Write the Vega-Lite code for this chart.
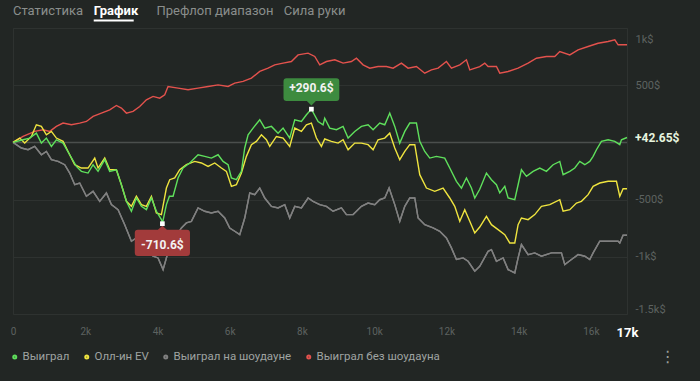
{
  "$schema": "https://vega.github.io/schema/vega-lite/v6.json",
  "width": 614,
  "height": 286,
  "autosize": {"type": "none"},
  "padding": {"left": 13, "top": 28, "right": 73, "bottom": 67},
  "background": "#222624",
  "config": {
    "font": "Roboto",
    "view": {"stroke": "#2e3230"},
    "axis": {"domain": false, "ticks": false, "title": null}
  },
  "datasets": {
    "win": [{"h":0,"v":0},{"h":278,"v":23},{"h":463,"v":38},{"h":647,"v":81},{"h":786,"v":-6},{"h":924,"v":38},{"h":1063,"v":-35},{"h":1201,"v":23},{"h":1386,"v":-6},{"h":1570,"v":-108},{"h":1755,"v":-210},{"h":1893,"v":-253},{"h":2078,"v":-268},{"h":2217,"v":-195},{"h":2355,"v":-253},{"h":2540,"v":-151},{"h":2678,"v":-253},{"h":2863,"v":-239},{"h":3001,"v":-370},{"h":3140,"v":-515},{"h":3278,"v":-602},{"h":3416,"v":-486},{"h":3555,"v":-559},{"h":3693,"v":-588},{"h":3832,"v":-486},{"h":3970,"v":-602},{"h":4109,"v":-675},{"h":4136,"v":-710.6},{"h":4247,"v":-544},{"h":4330,"v":-470},{"h":4432,"v":-471},{"h":4570,"v":-311},{"h":4709,"v":-224},{"h":4893,"v":-180},{"h":5124,"v":-108},{"h":5309,"v":-122},{"h":5493,"v":-137},{"h":5678,"v":-108},{"h":5816,"v":-166},{"h":5955,"v":-195},{"h":6047,"v":-311},{"h":6185,"v":-326},{"h":6324,"v":-253},{"h":6416,"v":-49},{"h":6509,"v":67},{"h":6647,"v":125},{"h":6832,"v":198},{"h":6970,"v":125},{"h":7155,"v":140},{"h":7339,"v":81},{"h":7478,"v":125},{"h":7662,"v":38},{"h":7801,"v":198},{"h":7985,"v":183},{"h":8124,"v":242},{"h":8262,"v":290.6},{"h":8447,"v":183},{"h":8585,"v":154},{"h":8631,"v":212},{"h":8770,"v":125},{"h":8955,"v":111},{"h":9139,"v":140},{"h":9278,"v":38},{"h":9462,"v":96},{"h":9647,"v":140},{"h":9831,"v":154},{"h":9970,"v":111},{"h":10154,"v":169},{"h":10293,"v":154},{"h":10431,"v":256},{"h":10570,"v":140},{"h":10708,"v":-6},{"h":10847,"v":96},{"h":10985,"v":169},{"h":11170,"v":169},{"h":11262,"v":9},{"h":11400,"v":-79},{"h":11539,"v":-137},{"h":11724,"v":-122},{"h":11954,"v":-137},{"h":12093,"v":-224},{"h":12277,"v":-340},{"h":12416,"v":-399},{"h":12554,"v":-311},{"h":12693,"v":-399},{"h":12785,"v":-486},{"h":12923,"v":-410},{"h":13108,"v":-268},{"h":13247,"v":-326},{"h":13385,"v":-370},{"h":13477,"v":-442},{"h":13616,"v":-384},{"h":13708,"v":-486},{"h":13893,"v":-501},{"h":13985,"v":-370},{"h":14077,"v":-239},{"h":14216,"v":-297},{"h":14400,"v":-253},{"h":14585,"v":-224},{"h":14769,"v":-253},{"h":14954,"v":-195},{"h":15139,"v":-166},{"h":15231,"v":-282},{"h":15416,"v":-253},{"h":15554,"v":-224},{"h":15692,"v":-166},{"h":15831,"v":-195},{"h":15969,"v":-166},{"h":16062,"v":-122},{"h":16154,"v":-64},{"h":16292,"v":9},{"h":16477,"v":23},{"h":16662,"v":9},{"h":16800,"v":-20},{"h":16846,"v":23},{"h":17000,"v":42.65}],
    "ev": [{"h":0,"v":0},{"h":186,"v":38},{"h":324,"v":-6},{"h":509,"v":52},{"h":647,"v":154},{"h":786,"v":140},{"h":924,"v":67},{"h":1063,"v":96},{"h":1201,"v":38},{"h":1386,"v":9},{"h":1524,"v":-79},{"h":1709,"v":-195},{"h":1893,"v":-224},{"h":2078,"v":-224},{"h":2263,"v":-137},{"h":2355,"v":-224},{"h":2540,"v":-137},{"h":2678,"v":-239},{"h":2863,"v":-239},{"h":3001,"v":-370},{"h":3140,"v":-515},{"h":3278,"v":-559},{"h":3416,"v":-471},{"h":3555,"v":-544},{"h":3693,"v":-559},{"h":3832,"v":-471},{"h":3970,"v":-617},{"h":4109,"v":-631},{"h":4247,"v":-399},{"h":4339,"v":-326},{"h":4478,"v":-311},{"h":4616,"v":-239},{"h":4801,"v":-195},{"h":5032,"v":-166},{"h":5216,"v":-180},{"h":5401,"v":-210},{"h":5586,"v":-180},{"h":5770,"v":-224},{"h":5909,"v":-253},{"h":6047,"v":-384},{"h":6185,"v":-370},{"h":6324,"v":-268},{"h":6462,"v":-122},{"h":6601,"v":-20},{"h":6739,"v":9},{"h":6878,"v":67},{"h":7016,"v":23},{"h":7108,"v":-35},{"h":7293,"v":52},{"h":7478,"v":38},{"h":7662,"v":-35},{"h":7801,"v":125},{"h":7985,"v":96},{"h":8124,"v":154},{"h":8262,"v":169},{"h":8401,"v":38},{"h":8539,"v":-35},{"h":8631,"v":30},{"h":8816,"v":9},{"h":9001,"v":-6},{"h":9139,"v":23},{"h":9278,"v":-64},{"h":9462,"v":-6},{"h":9647,"v":-6},{"h":9831,"v":-20},{"h":9970,"v":-64},{"h":10108,"v":23},{"h":10293,"v":38},{"h":10431,"v":81},{"h":10570,"v":-49},{"h":10708,"v":-151},{"h":10847,"v":-79},{"h":10985,"v":-20},{"h":11124,"v":-20},{"h":11262,"v":-282},{"h":11447,"v":-399},{"h":11677,"v":-428},{"h":11908,"v":-399},{"h":12093,"v":-486},{"h":12231,"v":-559},{"h":12370,"v":-690},{"h":12508,"v":-588},{"h":12647,"v":-690},{"h":12785,"v":-792},{"h":12923,"v":-740},{"h":13108,"v":-646},{"h":13247,"v":-719},{"h":13431,"v":-762},{"h":13616,"v":-806},{"h":13754,"v":-879},{"h":13893,"v":-879},{"h":13985,"v":-719},{"h":14077,"v":-661},{"h":14262,"v":-675},{"h":14446,"v":-631},{"h":14631,"v":-559},{"h":14862,"v":-544},{"h":15139,"v":-501},{"h":15231,"v":-602},{"h":15416,"v":-588},{"h":15600,"v":-530},{"h":15739,"v":-515},{"h":15923,"v":-457},{"h":16062,"v":-384},{"h":16246,"v":-355},{"h":16477,"v":-340},{"h":16708,"v":-340},{"h":16800,"v":-471},{"h":16892,"v":-405},{"h":17000,"v":-405}],
    "sd": [{"h":0,"v":0},{"h":232,"v":-49},{"h":416,"v":-64},{"h":601,"v":-35},{"h":786,"v":-108},{"h":924,"v":-79},{"h":1063,"v":-151},{"h":1247,"v":-166},{"h":1432,"v":-195},{"h":1570,"v":-268},{"h":1709,"v":-370},{"h":1847,"v":-355},{"h":2032,"v":-471},{"h":2217,"v":-428},{"h":2401,"v":-515},{"h":2586,"v":-442},{"h":2724,"v":-544},{"h":2909,"v":-588},{"h":3093,"v":-719},{"h":3278,"v":-864},{"h":3416,"v":-835},{"h":3601,"v":-908},{"h":3878,"v":-995},{"h":4016,"v":-1010},{"h":4155,"v":-1112},{"h":4247,"v":-1010},{"h":4339,"v":-908},{"h":4663,"v":-748},{"h":4801,"v":-704},{"h":4939,"v":-690},{"h":5124,"v":-573},{"h":5309,"v":-602},{"h":5493,"v":-617},{"h":5678,"v":-602},{"h":5862,"v":-661},{"h":6001,"v":-748},{"h":6139,"v":-777},{"h":6278,"v":-806},{"h":6416,"v":-661},{"h":6555,"v":-442},{"h":6693,"v":-457},{"h":6832,"v":-399},{"h":6970,"v":-486},{"h":7155,"v":-559},{"h":7339,"v":-573},{"h":7524,"v":-544},{"h":7662,"v":-661},{"h":7801,"v":-559},{"h":7985,"v":-573},{"h":8170,"v":-486},{"h":8308,"v":-515},{"h":8493,"v":-544},{"h":8678,"v":-559},{"h":8862,"v":-602},{"h":9093,"v":-573},{"h":9231,"v":-631},{"h":9416,"v":-631},{"h":9647,"v":-559},{"h":9831,"v":-530},{"h":10016,"v":-544},{"h":10154,"v":-501},{"h":10293,"v":-486},{"h":10413,"v":-399},{"h":10570,"v":-544},{"h":10708,"v":-690},{"h":10847,"v":-559},{"h":10985,"v":-486},{"h":11124,"v":-486},{"h":11216,"v":-661},{"h":11400,"v":-719},{"h":11631,"v":-748},{"h":11816,"v":-777},{"h":12000,"v":-835},{"h":12139,"v":-922},{"h":12277,"v":-1024},{"h":12462,"v":-1010},{"h":12600,"v":-1039},{"h":12785,"v":-1126},{"h":12923,"v":-1083},{"h":13154,"v":-952},{"h":13247,"v":-937},{"h":13385,"v":-1039},{"h":13570,"v":-1010},{"h":13708,"v":-1112},{"h":13893,"v":-1141},{"h":13985,"v":-1010},{"h":14077,"v":-893},{"h":14262,"v":-981},{"h":14446,"v":-966},{"h":14631,"v":-995},{"h":14908,"v":-966},{"h":15185,"v":-966},{"h":15277,"v":-1068},{"h":15462,"v":-1024},{"h":15646,"v":-981},{"h":15831,"v":-995},{"h":15969,"v":-1024},{"h":16062,"v":-966},{"h":16246,"v":-864},{"h":16477,"v":-864},{"h":16754,"v":-864},{"h":16800,"v":-879},{"h":16892,"v":-812},{"h":17000,"v":-812}],
    "nsd": [{"h":0,"v":0},{"h":278,"v":52},{"h":601,"v":96},{"h":832,"v":111},{"h":1017,"v":96},{"h":1201,"v":140},{"h":1386,"v":169},{"h":1617,"v":154},{"h":1847,"v":169},{"h":2032,"v":183},{"h":2217,"v":227},{"h":2447,"v":256},{"h":2678,"v":285},{"h":2863,"v":323},{"h":3001,"v":300},{"h":3140,"v":256},{"h":3324,"v":271},{"h":3509,"v":314},{"h":3693,"v":372},{"h":3878,"v":402},{"h":4062,"v":387},{"h":4201,"v":416},{"h":4293,"v":489},{"h":4570,"v":474},{"h":4847,"v":460},{"h":5124,"v":474},{"h":5401,"v":489},{"h":5678,"v":503},{"h":5955,"v":489},{"h":6139,"v":518},{"h":6370,"v":533},{"h":6601,"v":562},{"h":6832,"v":620},{"h":7062,"v":649},{"h":7247,"v":678},{"h":7478,"v":693},{"h":7708,"v":707},{"h":7893,"v":765},{"h":8170,"v":780},{"h":8355,"v":751},{"h":8493,"v":678},{"h":8678,"v":707},{"h":8909,"v":722},{"h":9139,"v":693},{"h":9370,"v":707},{"h":9508,"v":736},{"h":9693,"v":678},{"h":9878,"v":649},{"h":10108,"v":663},{"h":10339,"v":663},{"h":10524,"v":649},{"h":10754,"v":693},{"h":10939,"v":649},{"h":11170,"v":663},{"h":11400,"v":605},{"h":11585,"v":634},{"h":11770,"v":649},{"h":12000,"v":707},{"h":12139,"v":649},{"h":12370,"v":678},{"h":12554,"v":722},{"h":12647,"v":634},{"h":12923,"v":663},{"h":13062,"v":693},{"h":13154,"v":663},{"h":13385,"v":663},{"h":13477,"v":605},{"h":13708,"v":620},{"h":13985,"v":649},{"h":14262,"v":693},{"h":14493,"v":736},{"h":14769,"v":751},{"h":15000,"v":751},{"h":15139,"v":794},{"h":15416,"v":765},{"h":15646,"v":809},{"h":15923,"v":838},{"h":16200,"v":867},{"h":16477,"v":882},{"h":16662,"v":896},{"h":16754,"v":853},{"h":17000,"v":853}],
    "peaks": [{"h":8262,"v":290.6,"label":"+290.6$","kind":"max"},{"h":4136,"v":-710.6,"label":"-710.6$","kind":"min"}],
    "last": [{"h":17000,"v":42.65,"label":"+42.65$"}]
  },
  "layer": [
    {
      "data": {"name": "sd"},
      "mark": {"type": "line", "strokeWidth": 1.4},
      "encoding": {
        "x": {
          "field": "h", "type": "quantitative",
          "scale": {"domain": [0, 17000], "nice": false, "zero": false},
          "axis": {
            "values": [0, 2000, 4000, 6000, 8000, 10000, 12000, 14000, 16000, 17000],
            "labelExpr": "datum.value === 0 ? '0' : (datum.value / 1000) + 'k'",
            "grid": false, "labelPadding": 12, "labelOverlap": false, "labelFlush": false,
            "labelFontSize": {"condition": {"test": "datum.value === 17000", "value": 13}, "value": 10},
            "labelColor": {"condition": {"test": "datum.value === 17000", "value": "#ffffff"}, "value": "#5d6260"},
            "labelFontWeight": {"condition": {"test": "datum.value === 17000", "value": "bold"}, "value": "normal"}
          }
        },
        "y": {
          "field": "v", "type": "quantitative",
          "scale": {"domain": [-1500, 1000], "nice": false, "zero": false},
          "axis": {
            "orient": "right",
            "values": [-1500, -1000, -500, 0, 500, 1000],
            "labelExpr": "datum.value === 0 ? '' : (abs(datum.value) >= 1000 ? (datum.value / 1000) + 'k$' : datum.value + '$')",
            "gridColor": "#2e3230", "labelColor": "#5d6260", "labelFontSize": 11,
            "labelPadding": 8, "labelFlush": true,
            "labelOffset": {"condition": {"test": "datum.value === 1000", "value": 5}, "value": 0}
          }
        },
        "color": {
          "datum": "Выиграл на шоудауне", "type": "nominal",
          "scale": {
            "domain": ["Выиграл", "Олл-ин EV", "Выиграл на шоудауне", "Выиграл без шоудауна"],
            "range": ["#5fe05c", "#efe43f", "#808080", "#e3524d"]
          },
          "legend": {
            "orient": "none", "legendX": -4, "legendY": 323, "direction": "horizontal", "title": null,
            "symbolType": "circle", "symbolSize": 4, "symbolStrokeWidth": 3,
            "labelFontSize": 11.5, "labelColor": "#9fa3a1", "labelFont": "Roboto",
            "labelOffset": 2, "columnPadding": 9, "padding": 0
          }
        }
      }
    },
    {
      "data": {"values": [{}]},
      "mark": {"type": "rule", "color": "#4b4f4d", "strokeWidth": 1.5},
      "encoding": {"x": {"datum": 0}, "x2": {"datum": 17000}, "y": {"datum": 0}}
    },
    {
      "data": {"name": "sd"},
      "mark": {"type": "line", "strokeWidth": 1.4},
      "encoding": {"x": {"field": "h", "type": "quantitative"}, "y": {"field": "v", "type": "quantitative"}, "color": {"datum": "Выиграл на шоудауне", "type": "nominal"}}
    },
    {
      "data": {"name": "nsd"},
      "mark": {"type": "line", "strokeWidth": 1.4},
      "encoding": {"x": {"field": "h", "type": "quantitative"}, "y": {"field": "v", "type": "quantitative"}, "color": {"datum": "Выиграл без шоудауна", "type": "nominal"}}
    },
    {
      "data": {"name": "ev"},
      "mark": {"type": "line", "strokeWidth": 1.4},
      "encoding": {"x": {"field": "h", "type": "quantitative"}, "y": {"field": "v", "type": "quantitative"}, "color": {"datum": "Олл-ин EV", "type": "nominal"}}
    },
    {
      "data": {"name": "win"},
      "mark": {"type": "line", "strokeWidth": 1.4},
      "encoding": {"x": {"field": "h", "type": "quantitative"}, "y": {"field": "v", "type": "quantitative"}, "color": {"datum": "Выиграл", "type": "nominal"}}
    },
    {
      "data": {"name": "peaks"},
      "transform": [{"filter": "datum.kind === 'max'"}],
      "mark": {"type": "point", "filled": true, "opacity": 1, "fill": "#3d8b3f", "strokeWidth": 0, "size": 3600,
        "shape": "M-0.83,-1.03 L0.83,-1.03 Q0.93,-1.03 0.93,-0.93 L0.93,-0.37 Q0.93,-0.27 0.83,-0.27 L0.15,-0.27 L0,-0.12 L-0.15,-0.27 L-0.83,-0.27 Q-0.93,-0.27 -0.93,-0.37 L-0.93,-0.93 Q-0.93,-1.03 -0.83,-1.03 Z"},
      "encoding": {"x": {"field": "h", "type": "quantitative"}, "y": {"field": "v", "type": "quantitative"}}
    },
    {
      "data": {"name": "peaks"},
      "transform": [{"filter": "datum.kind === 'min'"}],
      "mark": {"type": "point", "filled": true, "opacity": 1, "fill": "#a23b3b", "strokeWidth": 0, "size": 3600,
        "shape": "M-0.82,0.2 L-0.15,0.2 L0,0.07 L0.15,0.2 L0.82,0.2 Q0.92,0.2 0.92,0.3 L0.92,0.98 Q0.92,1.08 0.82,1.08 L-0.82,1.08 Q-0.92,1.08 -0.92,0.98 L-0.92,0.3 Q-0.92,0.2 -0.82,0.2 Z"},
      "encoding": {"x": {"field": "h", "type": "quantitative"}, "y": {"field": "v", "type": "quantitative"}}
    },
    {
      "data": {"name": "peaks"},
      "transform": [{"filter": "datum.kind === 'max'"}],
      "mark": {"type": "text", "dy": -21, "fontSize": 12, "fontWeight": "bold", "color": "#f2f2f2"},
      "encoding": {"x": {"field": "h", "type": "quantitative"}, "y": {"field": "v", "type": "quantitative"}, "text": {"field": "label"}}
    },
    {
      "data": {"name": "peaks"},
      "transform": [{"filter": "datum.kind === 'min'"}],
      "mark": {"type": "text", "dy": 21, "fontSize": 12, "fontWeight": "bold", "color": "#f2f2f2"},
      "encoding": {"x": {"field": "h", "type": "quantitative"}, "y": {"field": "v", "type": "quantitative"}, "text": {"field": "label"}}
    },
    {
      "data": {"name": "peaks"},
      "mark": {"type": "point", "shape": "square", "filled": true, "opacity": 1, "fill": "#ffffff", "size": 22},
      "encoding": {"x": {"field": "h", "type": "quantitative"}, "y": {"field": "v", "type": "quantitative"}}
    },
    {
      "data": {"name": "last"},
      "mark": {"type": "text", "align": "left", "baseline": "middle", "dx": 8, "fontSize": 12, "fontWeight": "bold", "color": "#e6f4df"},
      "encoding": {"x": {"field": "h", "type": "quantitative"}, "y": {"field": "v", "type": "quantitative"}, "text": {"field": "label"}}
    },
    {
      "data": {"values": [{"t": "Статистика"}]},
      "mark": {"type": "text", "align": "left", "baseline": "middle", "fontSize": 13, "color": "#8a8e8c"},
      "encoding": {"x": {"datum": 0}, "y": {"datum": 1149}, "text": {"field": "t"}}
    },
    {
      "data": {"values": [{"t": "График"}]},
      "mark": {"type": "text", "align": "left", "baseline": "middle", "fontSize": 13, "fontWeight": "bold", "color": "#ffffff"},
      "encoding": {"x": {"datum": 2235}, "y": {"datum": 1149}, "text": {"field": "t"}}
    },
    {
      "data": {"values": [{"t": "Префлоп диапазон"}]},
      "mark": {"type": "text", "align": "left", "baseline": "middle", "fontSize": 13, "color": "#8a8e8c"},
      "encoding": {"x": {"datum": 3971}, "y": {"datum": 1149}, "text": {"field": "t"}}
    },
    {
      "data": {"values": [{"t": "Сила руки"}]},
      "mark": {"type": "text", "align": "left", "baseline": "middle", "fontSize": 13, "color": "#8a8e8c"},
      "encoding": {"x": {"datum": 7499}, "y": {"datum": 1149}, "text": {"field": "t"}}
    },
    {
      "data": {"values": [{}]},
      "mark": {"type": "rule", "color": "#ffffff", "strokeWidth": 2},
      "encoding": {"x": {"datum": 2235}, "x2": {"datum": 3342}, "y": {"datum": 1065}}
    },
    {
      "data": {"values": [{"t": "⋮"}]},
      "mark": {"type": "text", "align": "center", "baseline": "middle", "fontSize": 16, "font": "DejaVu Sans", "color": "#9a9e9c"},
      "encoding": {"x": {"datum": 18129}, "y": {"datum": -1879}, "text": {"field": "t"}}
    }
  ]
}
